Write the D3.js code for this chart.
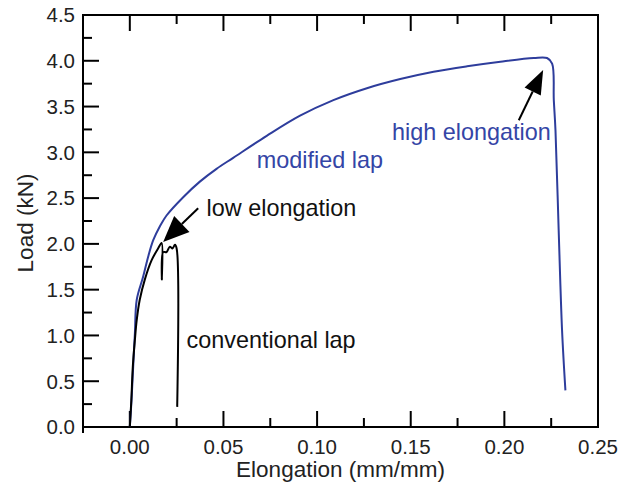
<!DOCTYPE html>
<html>
<head>
<meta charset="utf-8">
<script src="https://cdn.jsdelivr.net/npm/d3@7"></script>
<style>
  body { margin: 0; background: #fff; }
  text { font-family: "Liberation Sans", Arial, Helvetica, sans-serif; }
</style>
</head>
<body>
<script>
// elongation (mm/mm) vs load (kN)
var modifiedX = [0, 0.0009, 0.0018, 0.0027, 0.0037, 0.0071, 0.0098, 0.0125, 0.0160, 0.0196,
    0.0285, 0.0374, 0.0463, 0.0552, 0.0731, 0.0909, 0.1087, 0.1266, 0.1444, 0.1622, 0.1801,
    0.1979, 0.2157, 0.2228, 0.2255, 0.2264, 0.2273, 0.2290, 0.2308, 0.2326];
var modifiedY = [0, 0.29, 0.66, 1.02, 1.39, 1.64, 1.86, 2.04, 2.19, 2.31,
    2.51, 2.68, 2.82, 2.94, 3.18, 3.40, 3.57, 3.70, 3.80, 3.88, 3.94,
    3.99, 4.03, 4.03, 3.97, 3.57, 3.24, 2.15, 1.06, 0.40];

var conventionalX = [0, 0.0008, 0.0016, 0.0027, 0.0037, 0.0053, 0.0080, 0.0116, 0.0151, 0.0170,
    0.0171, 0.0178, 0.0196, 0.0214, 0.0228, 0.0241, 0.0250, 0.0253];
var conventionalY = [0, 0.29, 0.66, 0.95, 1.17, 1.39, 1.61, 1.82, 1.95, 2.01,
    1.61, 1.91, 1.91, 1.97, 1.95, 1.99, 1.95, 0.22];

var xTicks = [0, 0.05, 0.10, 0.15, 0.20, 0.25];
var xMinor = [0.025, 0.075, 0.125, 0.175, 0.225];
var yTicks = [0, 0.5, 1.0, 1.5, 2.0, 2.5, 3.0, 3.5, 4.0, 4.5];
var yMinor = [0.25, 0.75, 1.25, 1.75, 2.25, 2.75, 3.25, 3.75, 4.25];

// labels: text, x, y (data units, start / baseline), colour
var labelText = ["low elongation", "high elongation", "modified lap", "conventional lap"];
var labelX = [0.041, 0.140, 0.0678, 0.0303];
var labelY = [2.30, 3.13, 2.83, 0.86];
var labelColor = ["#111", "#3445a6", "#3445a6", "#111"];

// arrows: tail -> tip (data units)
var arrowFrom = [[0.0365, 2.39], [0.2077, 3.35]];
var arrowTo = [[0.0178, 2.02], [0.2207, 3.90]];
var arrowHead = [[26, 11], [24, 9]];

var width = 631;
var height = 483;
var margin = { top: 15, right: 33, bottom: 56, left: 83 };

var svg = d3.select("body")
    .append("svg")
    .attr("width", width)
    .attr("height", height);

var x = d3.scaleLinear()
    .domain([-0.025, 0.25])
    .range([margin.left, width - margin.right]);

var y = d3.scaleLinear()
    .domain([0, 4.5])
    .range([height - margin.bottom, margin.top]);

var x0 = x.range()[0], x1 = x.range()[1];
var y0 = y.range()[0], y1 = y.range()[1];

// frame
svg.append("rect")
    .attr("x", x0).attr("y", y1)
    .attr("width", x1 - x0).attr("height", y0 - y1)
    .attr("fill", "none")
    .attr("stroke", "#000")
    .attr("stroke-width", 2);
svg.append("line")
    .attr("x1", x0).attr("x2", x0)
    .attr("y1", y0).attr("y2", y0 + 6)
    .attr("stroke", "#000").attr("stroke-width", 2);

var major = 16, minor = 9;

function tickLines(vals, len, horiz) {
    vals.forEach(function(v) {
        if (horiz) {
            // bottom and top ticks
            svg.append("line")
                .attr("x1", x(v)).attr("x2", x(v))
                .attr("y1", y0).attr("y2", y0 - len)
                .attr("stroke", "#000").attr("stroke-width", 2);
            svg.append("line")
                .attr("x1", x(v)).attr("x2", x(v))
                .attr("y1", y1).attr("y2", y1 + len)
                .attr("stroke", "#000").attr("stroke-width", 2);
        } else {
            svg.append("line")
                .attr("x1", x0).attr("x2", x0 + len)
                .attr("y1", y(v)).attr("y2", y(v))
                .attr("stroke", "#000").attr("stroke-width", 2);
        }
    });
}
tickLines(xTicks, major, true);
tickLines(xMinor, minor, true);
tickLines(yTicks, major, false);
tickLines(yMinor, minor, false);

svg.selectAll(".xlab")
    .data(xTicks)
    .enter()
    .append("text")
    .attr("class", "xlab")
    .attr("x", function(d) { return x(d); })
    .attr("y", y0 + 27)
    .attr("text-anchor", "middle")
    .attr("font-size", 20.5)
    .attr("fill", "#222")
    .text(d3.format(".2f"));

svg.selectAll(".ylab")
    .data(yTicks)
    .enter()
    .append("text")
    .attr("class", "ylab")
    .attr("x", x0 - 8)
    .attr("y", function(d) { return y(d); })
    .attr("dy", "0.36em")
    .attr("text-anchor", "end")
    .attr("font-size", 20.5)
    .attr("fill", "#222")
    .text(d3.format(".1f"));

svg.append("text")
    .attr("x", (x0 + x1) / 2)
    .attr("y", height - 6)
    .attr("text-anchor", "middle")
    .attr("font-size", 22.5)
    .attr("fill", "#222")
    .text("Elongation (mm/mm)");

svg.append("text")
    .attr("transform", "translate(33," + ((y0 + y1) / 2 + 2) + ") rotate(-90)")
    .attr("text-anchor", "middle")
    .attr("font-size", 22.5)
    .attr("fill", "#222")
    .text("Load (kN)");

var line = d3.line()
    .x(function(d) { return x(d[0]); })
    .y(function(d) { return y(d[1]); })
    .curve(d3.curveCatmullRom.alpha(0.5));

svg.append("path")
    .datum(d3.zip(modifiedX, modifiedY))
    .attr("d", line)
    .attr("fill", "none")
    .attr("stroke", "#2e3d9c")
    .attr("stroke-width", 2);

svg.append("path")
    .datum(d3.zip(conventionalX, conventionalY))
    .attr("d", line)
    .attr("fill", "none")
    .attr("stroke", "#000")
    .attr("stroke-width", 2);

// annotations
labelText.forEach(function(t, i) {
    svg.append("text")
        .attr("x", x(labelX[i]))
        .attr("y", y(labelY[i]))
        .attr("font-size", 23.4)
        .attr("fill", labelColor[i])
        .text(t);
});

arrowFrom.forEach(function(a, i) {
    var ax = x(a[0]), ay = y(a[1]);
    var bx = x(arrowTo[i][0]), by = y(arrowTo[i][1]);
    var ang = Math.atan2(by - ay, bx - ax);
    var headLen = arrowHead[i][0], headW = arrowHead[i][1];
    var hx = bx - headLen * Math.cos(ang), hy = by - headLen * Math.sin(ang);
    svg.append("line")
        .attr("x1", ax).attr("y1", ay)
        .attr("x2", hx).attr("y2", hy)
        .attr("stroke", "#000").attr("stroke-width", 2);
    var px = -Math.sin(ang) * headW, py = Math.cos(ang) * headW;
    svg.append("path")
        .attr("d", "M" + bx + "," + by + "L" + (hx + px) + "," + (hy + py) +
            "L" + (hx - px) + "," + (hy - py) + "Z")
        .attr("fill", "#000");
});
</script>
</body>
</html>
